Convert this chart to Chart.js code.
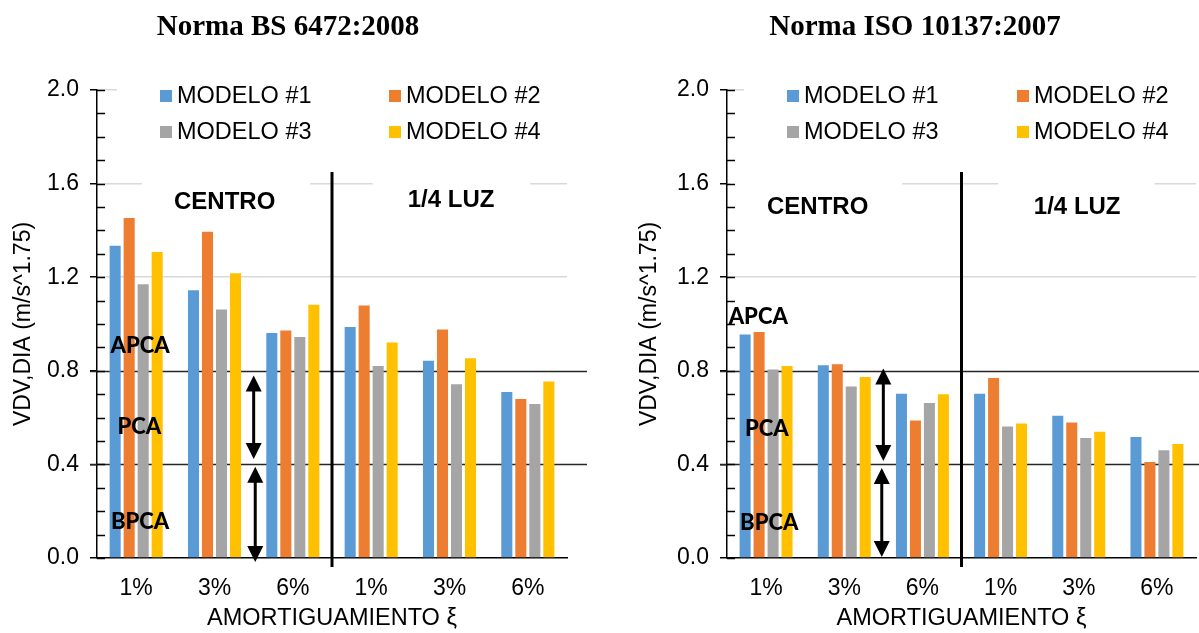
<!DOCTYPE html>
<html><head><meta charset="utf-8">
<script src="https://cdn.jsdelivr.net/npm/chart.js@4.4.1/dist/chart.umd.min.js"></script>
<style>
html,body{margin:0;padding:0;background:#fff;}
#wrap{position:relative;width:1199px;height:633px;overflow:hidden;background:#fff;}
canvas{position:absolute;top:0;}
</style></head><body>
<div id="wrap"><canvas id="c1" width="600" height="633" style="left:0"></canvas><canvas id="c2" width="599" height="633" style="left:600px"></canvas></div>
<script>
// ---- data ----
const categories = ['1%', '3%', '6%', '1%', '3%', '6%'];
const seriesLabels = ['MODELO #1', 'MODELO #2', 'MODELO #3', 'MODELO #4'];
const seriesColors = ['#5B9BD5', '#ED7D31', '#A5A5A5', '#FFC000'];
const bsModelo1 = [1.334, 1.144, 0.962, 0.987, 0.843, 0.709];
const bsModelo2 = [1.453, 1.394, 0.972, 1.079, 0.976, 0.679];
const bsModelo3 = [1.170, 1.062, 0.944, 0.820, 0.742, 0.658];
const bsModelo4 = [1.308, 1.217, 1.082, 0.921, 0.854, 0.754];
const isoModelo1 = [0.955, 0.824, 0.702, 0.702, 0.608, 0.517];
const isoModelo2 = [0.966, 0.828, 0.588, 0.769, 0.579, 0.410];
const isoModelo3 = [0.806, 0.733, 0.662, 0.562, 0.513, 0.461];
const isoModelo4 = [0.820, 0.773, 0.700, 0.575, 0.540, 0.487];
const yMin = 0, yMax = 2.0, yMajorStep = 0.4, yMinorStep = 0.1;
const thresholds = [0.4, 0.8];
const titles = ['Norma BS 6472:2008', 'Norma ISO 10137:2007'];
const yTitle = 'VDV,DIA (m/s^1.75)';
const xTitle = 'AMORTIGUAMIENTO ξ';
const zoneLabels = ['APCA', 'PCA', 'BPCA'];
const groupLabels = ['CENTRO', '1/4 LUZ'];

const SANS = '"Liberation Sans", Arial, sans-serif';

function makeDatasets(arrs) {
  return arrs.map((d, k) => ({
    label: seriesLabels[k], data: d, backgroundColor: seriesColors[k],
    borderWidth: 0, categoryPercentage: 0.715, barPercentage: 0.79
  }));
}

const deco = {
  id: 'deco',
  beforeDatasetsDraw(chart, args, o) {
    const { ctx, chartArea: a, scales: { x, y } } = chart;
    const cw = x.getPixelForValue(1) - x.getPixelForValue(0);
    const cx = i => x.getPixelForValue(0) + i * cw;
    ctx.save();
    ctx.fillStyle = '#fff';
    ctx.fillRect(a.left + o.legendMaskStart, a.top - 6, a.right - a.left - o.legendMaskStart + 4, 52);
    o.boxes.forEach(b => {
      const y0 = y.getPixelForValue(1.66), y1 = y.getPixelForValue(1.45);
      ctx.fillRect(cx(b[0]), y0, cx(b[1]) - cx(b[0]), y1 - y0);
    });
    ctx.strokeStyle = '#262626';
    ctx.lineWidth = 1.5;
    thresholds.forEach(t => {
      const py = Math.round(y.getPixelForValue(t)) + 0.5;
      ctx.beginPath();
      ctx.moveTo(a.left - 7, py);
      ctx.lineTo(a.right + o.threshExtend, py);
      ctx.stroke();
    });
    ctx.restore();
  },
  afterDraw(chart, args, o) {
    const { ctx, chartArea: a, scales: { x, y } } = chart;
    const cw = x.getPixelForValue(1) - x.getPixelForValue(0);
    const cx = i => x.getPixelForValue(0) + i * cw;
    ctx.save();
    // inside ticks
    ctx.strokeStyle = '#000';
    ctx.lineWidth = 1.5;
    for (let k = 0; k <= Math.round((yMax - yMin) / yMinorStep); k++) {
      const py = Math.round(y.getPixelForValue(yMin + k * yMinorStep)) + 0.5;
      ctx.beginPath(); ctx.moveTo(a.left, py); ctx.lineTo(a.left + 8, py); ctx.stroke();
    }
    // separator
    ctx.lineWidth = 3;
    const sx = cx(2.5);
    ctx.beginPath(); ctx.moveTo(sx, y.getPixelForValue(1.65)); ctx.lineTo(sx, a.bottom + 9); ctx.stroke();
    // arrows
    o.arrows.forEach(ar => {
      const px = cx(ar[0]), p0 = y.getPixelForValue(ar[1]), p1 = y.getPixelForValue(ar[2]);
      const h = 16, w = 8;
      ctx.lineWidth = 3;
      ctx.beginPath(); ctx.moveTo(px, p0 + h - 2); ctx.lineTo(px, p1 - h + 2); ctx.stroke();
      ctx.fillStyle = '#000';
      ctx.beginPath(); ctx.moveTo(px, p0); ctx.lineTo(px - w, p0 + h); ctx.lineTo(px + w, p0 + h); ctx.closePath(); ctx.fill();
      ctx.beginPath(); ctx.moveTo(px, p1); ctx.lineTo(px - w, p1 - h); ctx.lineTo(px + w, p1 - h); ctx.closePath(); ctx.fill();
    });
    // title
    ctx.fillStyle = '#000';
    ctx.textAlign = 'center';
    ctx.textBaseline = 'middle';
    ctx.font = 'bold 29px "Liberation Serif", "Times New Roman", serif';
    ctx.fillText(o.title, o.titleX, 28);
    // group labels
    ctx.font = 'bold 24px ' + SANS;
    o.groupPos.forEach((g, k) => ctx.fillText(groupLabels[k], cx(g[0]), y.getPixelForValue(g[1])));
    // zone labels
    ctx.font = '900 22px Lato, "Open Sans", sans-serif';
    o.zonePos.forEach((g, k) => ctx.fillText(zoneLabels[k], cx(g[0]), y.getPixelForValue(g[1])));
    // legend
    ctx.textAlign = 'left';
    ctx.font = '23.5px ' + SANS;
    chart.data.datasets.forEach((ds, k) => {
      const col = k % 2, row = Math.floor(k / 2);
      const lx = a.left + o.legendX[col];
      const ly = a.top + 6 + row * 36;
      ctx.fillStyle = ds.backgroundColor;
      ctx.fillRect(lx, ly - 6, 12, 12);
      ctx.fillStyle = '#000';
      ctx.fillText(ds.label, lx + 17, ly + 1);
    });
    ctx.restore();
  }
};

function makeChart(id, arrs, cfg) {
  return new Chart(document.getElementById(id), {
    type: 'bar',
    data: { labels: categories, datasets: makeDatasets(arrs) },
    plugins: [deco],
    options: {
      responsive: false, animation: false, devicePixelRatio: 1,
      layout: { padding: { left: cfg.padLeft, right: cfg.padRight, top: 90, bottom: 0 } },
      plugins: {
        legend: { display: false }, tooltip: { enabled: false }, title: { display: false },
        deco: cfg.deco
      },
      scales: {
        x: {
          grid: { drawOnChartArea: false, drawTicks: false, color: 'rgba(0,0,0,0)' },
          border: { display: true, color: '#000', width: 1.5 },
          ticks: { color: '#000', font: { family: SANS, size: 23 }, padding: 17, maxRotation: 0, autoSkip: false },
          title: { display: true, text: xTitle, color: '#000', font: { family: SANS, size: 23.5 }, padding: 0 },
          afterFit: s => { s.height = 75; }
        },
        y: {
          min: yMin, max: yMax,
          ticks: {
            stepSize: yMinorStep, autoSkip: false, color: '#000', padding: 11,
            font: { family: SANS, size: 23 },
            callback: v => (Math.round(v * 10) % Math.round(yMajorStep * 10) === 0) ? Number(v).toFixed(1) : ''
          },
          grid: {
            drawTicks: true, tickLength: 7, tickWidth: 1.5, lineWidth: 1.5,
            color: c => {
              const v = Math.round(c.tick.value * 10);
              if (v === 0 || thresholds.some(t => Math.round(t * 10) === v)) return 'rgba(0,0,0,0)';
              return (v % 4 === 0) ? '#d9d9d9' : 'rgba(0,0,0,0)';
            },
            tickColor: c => (Math.round(c.tick.value * 10) % 4 === 0) ? '#000' : 'rgba(0,0,0,0)'
          },
          border: { display: true, color: '#000', width: 1.5 },
          title: { display: true, text: yTitle, color: '#000', font: { family: SANS, size: 23 }, padding: 0 },
          afterFit: s => { s.width = cfg.yWidth; }
        }
      }
    }
  });
}

makeChart('c1', [bsModelo1, bsModelo2, bsModelo3, bsModelo4], {
  padLeft: 10, padRight: 33, yWidth: 87,
  deco: {
    title: titles[0], titleX: 288, threshExtend: 20, legendMaskStart: 20,
    legendX: [63, 292],
    boxes: [[0.074, 2.22], [3.02, 5.03]],
    groupPos: [[1.13, 1.52], [4.02, 1.53]],
    zonePos: [[0.05, 0.906], [0.04, 0.56], [0.05, 0.154]],
    arrows: [[1.5, 0.78, 0.423], [1.52, 0.39, -0.017]]
  }
});
makeChart('c2', [isoModelo1, isoModelo2, isoModelo3, isoModelo4], {
  padLeft: 36, padRight: 3, yWidth: 91,
  deco: {
    title: titles[1], titleX: 315, threshExtend: 4, legendMaskStart: 17,
    legendX: [60, 290],
    boxes: [[-0.46, 1.74], [2.97, 4.97]],
    groupPos: [[0.66, 1.5], [3.98, 1.5]],
    zonePos: [[-0.1, 1.03], [0.01, 0.55], [0.04, 0.15]],
    arrows: [[1.5, 0.81, 0.415], [1.48, 0.385, 0.004]]
  }
});
</script>
</body></html>
